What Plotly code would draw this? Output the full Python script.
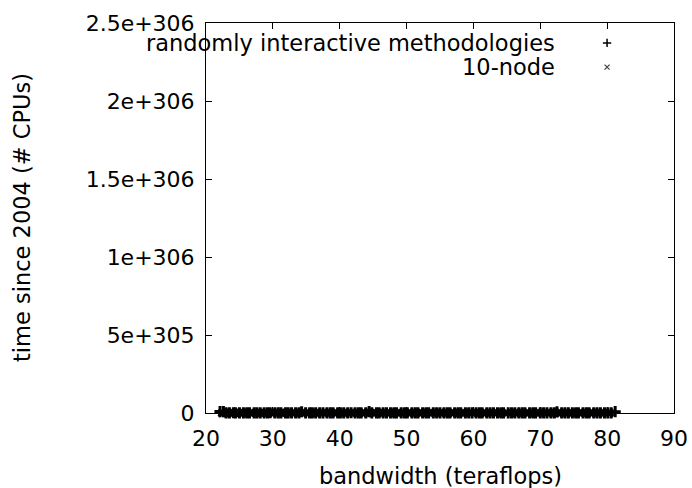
import plotly.graph_objects as go

# ---- data ----
series1_name = "randomly interactive methodologies"
series2_name = "10-node"

x1 = [22.1, 22.6, 23.0, 23.5, 24.1, 24.4, 25.0, 25.6, 26.1, 26.5,
      27.2, 27.6, 28.1, 28.7, 29.2, 29.6, 30.3, 30.8, 31.2, 31.9,
      32.3, 32.8, 33.4, 33.9, 34.3, 34.9, 35.5, 35.9, 36.4, 37.0,
      37.5, 38.1, 38.6, 39.0, 39.7, 40.1, 40.6, 41.2, 41.7, 42.3,
      42.8, 43.2, 43.9, 44.4, 44.8, 45.5, 45.9, 46.5, 47.0, 47.6,
      48.1, 48.5, 49.2, 49.7, 50.1, 50.8, 51.3, 51.7, 52.4, 52.9,
      53.3, 54.0, 54.5, 55.0, 55.6, 56.1, 56.5, 57.2, 57.7, 58.1,
      58.8, 59.3, 59.8, 60.4, 60.9, 61.3, 62.0, 62.5, 63.0, 63.6,
      64.1, 64.5, 65.2, 65.7, 66.2, 66.8, 67.3, 67.7, 68.4, 68.9,
      69.3, 70.0, 70.5, 71.0, 71.6, 72.1, 72.5, 73.2, 73.7, 74.2,
      74.8, 75.3, 75.7, 76.4, 76.9, 77.3, 78.0, 78.5, 79.0, 79.6,
      80.1, 80.6, 81.2]
y1 = [9.1e303, 8.9e303, 1.2e303, 0.8e303, 1.5e303, 0.6e303, 1.1e303, 0.9e303, 1.3e303, 0.7e303,
      1.0e303, 1.4e303, 0.5e303, 1.2e303, 0.8e303, 1.6e303, 0.9e303, 1.1e303, 0.6e303, 1.3e303,
      0.7e303, 1.0e303, 1.2e303, 0.8e303, 7.9e303, 0.9e303, 1.1e303, 0.6e303, 1.4e303, 0.7e303,
      1.0e303, 0.8e303, 1.3e303, 0.5e303, 1.2e303, 0.9e303, 1.1e303, 0.7e303, 1.5e303, 0.8e303,
      1.0e303, 0.6e303, 1.2e303, 8.8e303, 1.3e303, 0.7e303, 1.1e303, 0.9e303, 1.4e303, 0.6e303,
      1.0e303, 0.8e303, 1.2e303, 0.7e303, 1.1e303, 0.9e303, 1.3e303, 0.5e303, 1.0e303, 0.8e303,
      1.2e303, 0.6e303, 1.1e303, 0.9e303, 1.4e303, 0.7e303, 1.0e303, 0.8e303, 1.2e303, 0.6e303,
      1.1e303, 0.9e303, 1.3e303, 0.7e303, 1.0e303, 0.8e303, 1.2e303, 0.5e303, 1.1e303, 0.9e303,
      1.4e303, 0.7e303, 1.0e303, 0.8e303, 1.2e303, 0.6e303, 1.1e303, 0.9e303, 1.3e303, 0.7e303,
      1.0e303, 0.8e303, 1.2e303, 0.6e303, 1.1e303, 0.9e303, 7.7e303, 0.7e303, 1.0e303, 0.8e303,
      1.2e303, 0.6e303, 1.1e303, 0.9e303, 1.3e303, 0.7e303, 1.0e303, 0.8e303, 1.2e303, 0.6e303,
      1.1e303, 0.9e303, 8.8e303]

x2 = [22.4, 22.9, 23.3, 23.8, 24.3, 24.8, 25.3, 25.8, 26.3, 26.8,
      27.4, 27.9, 28.4, 28.9, 29.4, 29.9, 30.5, 31.0, 31.5, 32.0,
      32.5, 33.1, 33.6, 34.1, 34.6, 35.2, 35.7, 36.2, 36.7, 37.2,
      37.8, 38.3, 38.8, 39.3, 39.9, 40.4, 40.9, 41.4, 42.0, 42.5,
      43.0, 43.6, 44.1, 44.6, 45.1, 45.7, 46.2, 46.7, 47.3, 47.8,
      48.3, 48.8, 49.4, 49.9, 50.4, 51.0, 51.5, 52.0, 52.6, 53.1,
      53.6, 54.2, 54.7, 55.2, 55.8, 56.3, 56.8, 57.4, 57.9, 58.4,
      59.0, 59.5, 60.1, 60.6, 61.1, 61.6, 62.2, 62.7, 63.3, 63.8,
      64.3, 64.8, 65.4, 65.9, 66.4, 67.0, 67.5, 68.1, 68.6, 69.1,
      69.6, 70.2, 70.7, 71.3, 71.8, 72.3, 72.9, 73.4, 73.9, 74.5,
      75.0, 75.5, 76.1, 76.6, 77.1, 77.7, 78.2, 78.7, 79.3, 79.8,
      80.4]
y2 = [0.9e303, 1.1e303, 0.7e303, 1.3e303, 0.8e303, 1.0e303, 0.6e303, 1.2e303, 0.9e303, 1.1e303,
      0.7e303, 1.4e303, 0.8e303, 1.0e303, 0.6e303, 1.2e303, 0.9e303, 1.1e303, 0.7e303, 1.3e303,
      0.8e303, 1.0e303, 0.6e303, 1.2e303, 0.9e303, 1.1e303, 0.7e303, 1.3e303, 0.8e303, 1.0e303,
      0.6e303, 1.2e303, 0.9e303, 1.1e303, 0.7e303, 1.3e303, 0.8e303, 1.0e303, 0.6e303, 1.2e303,
      0.9e303, 1.1e303, 0.7e303, 1.4e303, 0.8e303, 1.0e303, 0.6e303, 1.2e303, 0.9e303, 1.1e303,
      0.7e303, 1.3e303, 0.8e303, 1.0e303, 0.6e303, 1.2e303, 0.9e303, 1.1e303, 0.7e303, 1.3e303,
      0.8e303, 1.0e303, 0.6e303, 1.2e303, 0.9e303, 1.1e303, 0.7e303, 1.3e303, 0.8e303, 1.0e303,
      0.6e303, 1.2e303, 0.9e303, 1.1e303, 0.7e303, 1.3e303, 0.8e303, 1.0e303, 0.6e303, 1.2e303,
      0.9e303, 1.1e303, -8.0e303, 1.4e303, 0.8e303, 1.0e303, 0.6e303, 1.2e303, 0.9e303, 1.1e303,
      0.7e303, 1.3e303, 0.8e303, 1.0e303, 0.6e303, 1.2e303, 0.9e303, 1.1e303, 0.7e303, 1.3e303,
      0.8e303, 1.0e303, 0.6e303, 1.2e303, 0.9e303, 1.1e303, 0.7e303, 1.3e303, 0.8e303, 1.0e303,
      0.6e303]

x_tickvals = [20, 30, 40, 50, 60, 70, 80, 90]
x_ticktext = ["20", "30", "40", "50", "60", "70", "80", "90"]
y_tickvals = [0, 5e305, 1e306, 1.5e306, 2e306, 2.5e306]
y_ticktext = ["0", "5e+305", "1e+306", "1.5e+306", "2e+306", "2.5e+306"]
y_max = 2.5e306

x_title = "bandwidth (teraflops)"
y_title = "time since 2004 (# CPUs)"

# plotly.js overflows near the double limit, so plot y in units of 1e300
UNIT = 1e300
sy1 = [v / UNIT for v in y1]
sy2 = [v / UNIT for v in y2]
sy_ticks = [v / UNIT for v in y_tickvals]

FONT = "DejaVu Sans"

fig = go.Figure()
fig.add_trace(go.Scatter(x=x1, y=sy1, mode="markers", name=series1_name,
                         cliponaxis=False,
                         marker=dict(symbol="cross-thin-open", size=8, color="black",
                                     line=dict(color="black", width=3))))
fig.add_trace(go.Scatter(x=x2, y=sy2, mode="markers", name=series2_name,
                         cliponaxis=False,
                         marker=dict(symbol="x-thin-open", size=7, color="black",
                                     line=dict(color="black", width=3))))

# legend samples (gnuplot style: text left of the symbol)
fig.add_trace(go.Scatter(x=[0.857], y=[0.949], mode="markers", xaxis="x2", yaxis="y2",
                         showlegend=False, hoverinfo="skip",
                         marker=dict(symbol="cross-thin-open", size=6, color="black",
                                     line=dict(color="black", width=1.5))))
fig.add_trace(go.Scatter(x=[0.857], y=[0.887], mode="markers", xaxis="x2", yaxis="y2",
                         showlegend=False, hoverinfo="skip",
                         marker=dict(symbol="x-thin-open", size=5, color="#444",
                                     line=dict(color="#444", width=1.2))))

axis_common = dict(showgrid=False, zeroline=False, showline=True, linecolor="black",
                   linewidth=1, mirror="allticks", ticks="inside", ticklen=6,
                   tickcolor="black", tickwidth=1,
                   tickfont=dict(family=FONT, size=22, color="black"))

fig.update_layout(
    width=692, height=488,
    margin=dict(l=206, r=18, t=23, b=75, autoexpand=False),
    paper_bgcolor="white", plot_bgcolor="white",
    showlegend=False,
    xaxis=dict(range=[20, 90], tickmode="array", tickvals=x_tickvals, ticktext=x_ticktext,
               ticklabelstandoff=6, **axis_common),
    yaxis=dict(range=[0, y_max / UNIT], tickmode="array", tickvals=sy_ticks, ticktext=y_ticktext,
               ticklabelstandoff=6, **axis_common),
    xaxis2=dict(overlaying="x", range=[0, 1], visible=False),
    yaxis2=dict(overlaying="y", range=[0, 1], visible=False),
    annotations=[
        dict(text=x_title, xref="paper", yref="paper", x=0.5, y=0, yshift=-63,
             xanchor="center", yanchor="middle", showarrow=False,
             font=dict(family=FONT, size=22.5, color="black")),
        dict(text=y_title, xref="paper", yref="paper", x=0, y=0.5, xshift=-184,
             xanchor="center", yanchor="middle", textangle=-90, showarrow=False,
             font=dict(family=FONT, size=22.5, color="black")),
        dict(text=series1_name, xref="paper", yref="paper", x=0.75, y=0.949,
             xanchor="right", yanchor="middle", showarrow=False,
             font=dict(family=FONT, size=22.5, color="black")),
        dict(text=series2_name, xref="paper", yref="paper", x=0.75, y=0.887,
             xanchor="right", yanchor="middle", showarrow=False,
             font=dict(family=FONT, size=22.5, color="black")),
    ],
)

fig.write_html("out.html")
